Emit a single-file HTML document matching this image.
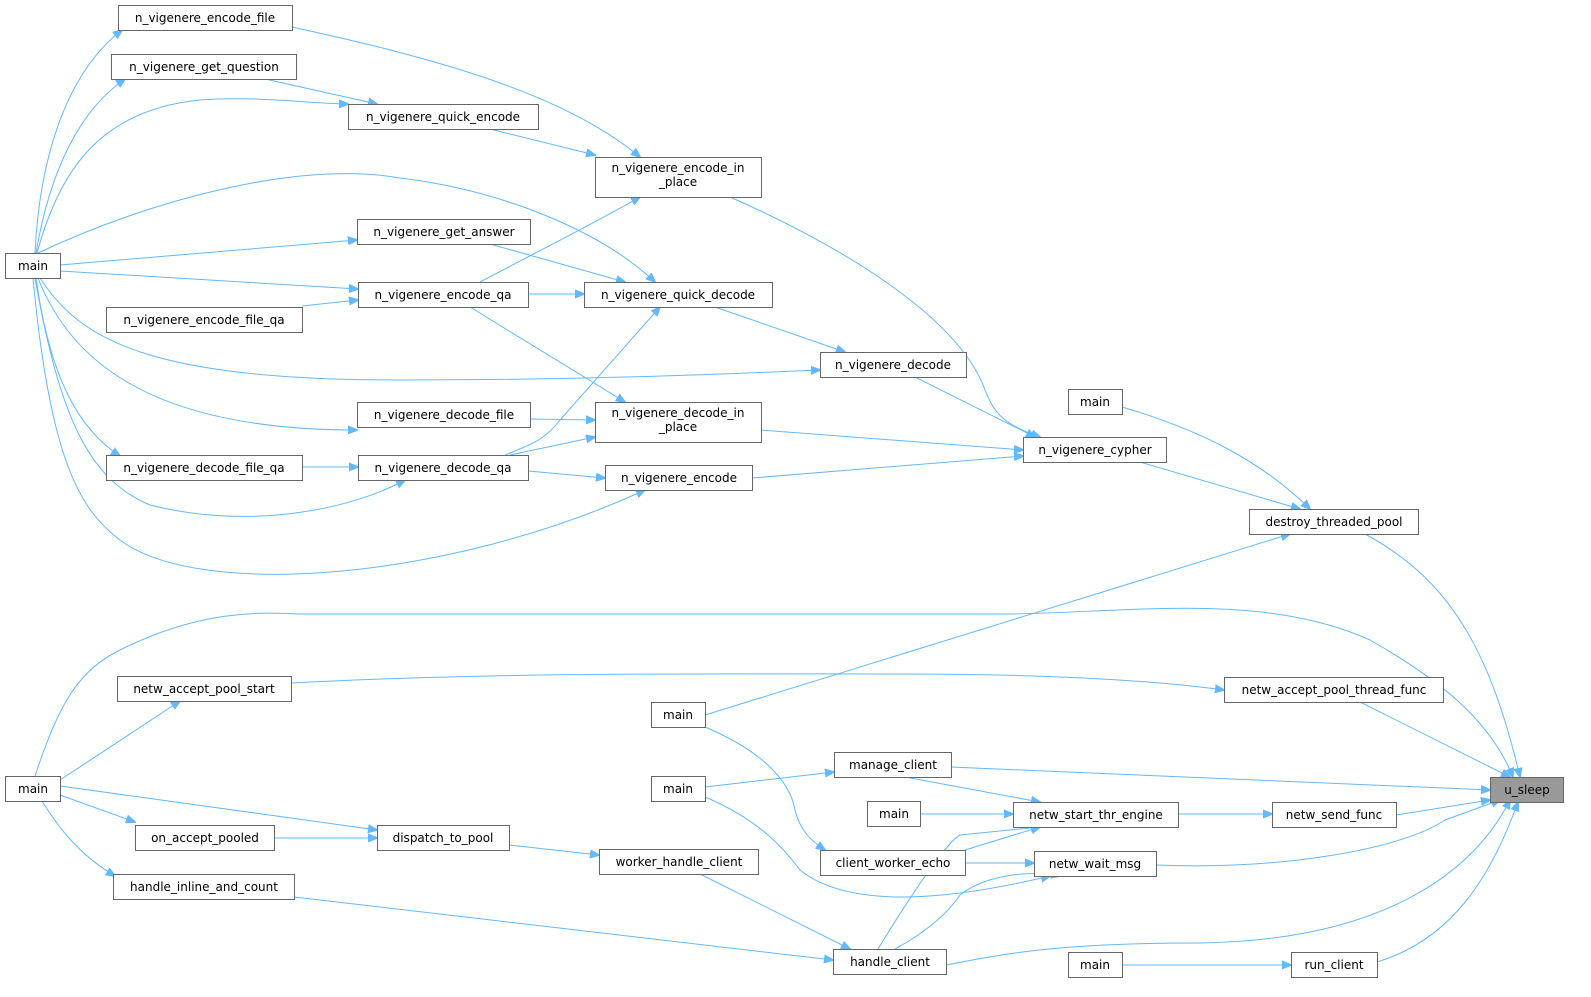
<!DOCTYPE html>
<html><head><meta charset="utf-8"><style>
html,body{margin:0;padding:0;background:#fff;}
svg{display:block;}
text{font-family:"DejaVu Sans","Liberation Sans",sans-serif;font-size:12px;fill:#000;}
.n{fill:#fff;stroke:#666;stroke-width:1;}
.e{fill:none;stroke:#63b8ff;stroke-width:1;}
</style></head><body>
<svg width="1591" height="997" viewBox="0 0 1591 997" xmlns="http://www.w3.org/2000/svg">
<defs><marker id="a" viewBox="0 0 10 10" refX="9" refY="5" markerWidth="10" markerHeight="10" markerUnits="userSpaceOnUse" orient="auto"><path d="M0,1 L10,5 L0,9 z" fill="#63b8ff" stroke="#63b8ff"/></marker></defs>
<g class="e" marker-end="url(#a)">
<path d="M35,253 C40,150 70,70 122,30"/>
<path d="M36,253 C50,170 80,110 125,79"/>
<path d="M37,253 C60,170 100,110 200,100 C260,96 300,103 348,104"/>
<path d="M38,253 C150,200 300,160 400,178 C500,190 600,230 655,282"/>
<path d="M60,265 L357,240"/>
<path d="M60,271 L358,289"/>
<path d="M40,278 C80,340 150,380 400,380 C600,380 750,373 820,370"/>
<path d="M38,278 C70,360 150,430 357,430"/>
<path d="M36,278 C50,380 80,430 120,456"/>
<path d="M35,278 C60,420 90,480 150,505 C250,530 350,510 405,480"/>
<path d="M33,278 C50,460 80,510 120,540 C200,600 450,580 645,490"/>
<path d="M265,79 L377,104"/>
<path d="M292,27 C420,55 560,90 640,157"/>
<path d="M490,129 L595,155"/>
<path d="M480,282 C560,240 600,220 640,197"/>
<path d="M490,244 L625,282"/>
<path d="M528,294 L584,294"/>
<path d="M302,306 L358,300"/>
<path d="M470,307 L625,402"/>
<path d="M505,455 C530,445 545,440 560,420 L660,307"/>
<path d="M530,419 L595,420"/>
<path d="M510,455 L595,437"/>
<path d="M302,467 L358,467"/>
<path d="M528,471 L605,478"/>
<path d="M715,307 L845,352"/>
<path d="M730,197 C850,250 960,320 985,390 C995,415 1005,425 1040,437"/>
<path d="M761,430 L1023,450"/>
<path d="M752,478 L1023,456"/>
<path d="M915,377 L1035,437"/>
<path d="M1140,462 L1300,509"/>
<path d="M1122,407 C1200,430 1260,460 1310,509"/>
<path d="M705,715 L1290,534"/>
<path d="M1365,534 C1450,580 1490,650 1520,777"/>
<path d="M35,776 C60,700 80,670 120,650 C200,610 260,612 300,614 L1000,614 C1120,614 1260,590 1370,640 C1440,680 1490,720 1513,777"/>
<path d="M60,780 L180,701"/>
<path d="M291,683 C500,672 700,674 900,674 C1050,674 1150,680 1224,690"/>
<path d="M1360,702 L1510,777"/>
<path d="M951,767 L1490,790"/>
<path d="M705,787 L834,772"/>
<path d="M705,727 C760,750 790,780 795,810 C800,830 810,840 825,850"/>
<path d="M60,786 L377,830"/>
<path d="M60,795 L135,822"/>
<path d="M42,801 C60,830 80,855 115,876"/>
<path d="M274,838 L377,838"/>
<path d="M509,845 L599,855"/>
<path d="M905,777 L1040,802"/>
<path d="M920,814 L1013,814"/>
<path d="M1178,814 L1272,814"/>
<path d="M1396,815 L1490,800"/>
<path d="M965,850 L1040,827"/>
<path d="M965,863 L1034,863"/>
<path d="M1156,865 C1280,870 1400,850 1445,820 L1500,800"/>
<path d="M878,949 C920,880 950,840 960,835 L1040,827"/>
<path d="M895,949 C930,930 950,910 960,895 C985,875 1030,870 1060,876"/>
<path d="M705,797 C760,820 785,850 800,870 C850,910 950,900 1050,876"/>
<path d="M700,874 L850,949"/>
<path d="M294,897 L833,960"/>
<path d="M946,965 C1000,955 1050,943 1200,943 C1400,940 1480,860 1510,800"/>
<path d="M1377,962 C1450,940 1490,880 1518,802"/>
<path d="M1122,965 L1291,965"/>
</g>
<g>
<rect class="n" x="118.5" y="5.5" width="174" height="25"/><text x="205" y="22" text-anchor="middle">n_vigenere_encode_file</text>
<rect class="n" x="111.5" y="54.5" width="185" height="25"/><text x="204" y="71" text-anchor="middle">n_vigenere_get_question</text>
<rect class="n" x="348.5" y="104.5" width="190" height="25"/><text x="443" y="121" text-anchor="middle">n_vigenere_quick_encode</text>
<rect class="n" x="595.5" y="157.5" width="166" height="40"/><text x="678" y="172" text-anchor="middle">n_vigenere_encode_in</text><text x="678" y="186" text-anchor="middle">_place</text>
<rect class="n" x="5.5" y="253.5" width="55" height="25"/><text x="33" y="270" text-anchor="middle">main</text>
<rect class="n" x="357.5" y="219.5" width="173" height="25"/><text x="444" y="236" text-anchor="middle">n_vigenere_get_answer</text>
<rect class="n" x="358.5" y="282.5" width="170" height="25"/><text x="443" y="299" text-anchor="middle">n_vigenere_encode_qa</text>
<rect class="n" x="584.5" y="282.5" width="188" height="25"/><text x="678" y="299" text-anchor="middle">n_vigenere_quick_decode</text>
<rect class="n" x="106.5" y="307.5" width="196" height="25"/><text x="204" y="324" text-anchor="middle">n_vigenere_encode_file_qa</text>
<rect class="n" x="820.5" y="352.5" width="146" height="25"/><text x="893" y="369" text-anchor="middle">n_vigenere_decode</text>
<rect class="n" x="1068.5" y="389.5" width="54" height="25"/><text x="1095" y="406" text-anchor="middle">main</text>
<rect class="n" x="357.5" y="402.5" width="173" height="25"/><text x="444" y="419" text-anchor="middle">n_vigenere_decode_file</text>
<rect class="n" x="595.5" y="402.5" width="166" height="40"/><text x="678" y="417" text-anchor="middle">n_vigenere_decode_in</text><text x="678" y="431" text-anchor="middle">_place</text>
<rect class="n" x="1023.5" y="437.5" width="143" height="25"/><text x="1095" y="454" text-anchor="middle">n_vigenere_cypher</text>
<rect class="n" x="106.5" y="455.5" width="196" height="25"/><text x="204" y="472" text-anchor="middle">n_vigenere_decode_file_qa</text>
<rect class="n" x="358.5" y="455.5" width="170" height="25"/><text x="443" y="472" text-anchor="middle">n_vigenere_decode_qa</text>
<rect class="n" x="605.5" y="465.5" width="147" height="25"/><text x="679" y="482" text-anchor="middle">n_vigenere_encode</text>
<rect class="n" x="1249.5" y="509.5" width="169" height="25"/><text x="1334" y="526" text-anchor="middle">destroy_threaded_pool</text>
<rect class="n" x="117.5" y="676.5" width="174" height="25"/><text x="204" y="693" text-anchor="middle">netw_accept_pool_start</text>
<rect class="n" x="1224.5" y="677.5" width="219" height="25"/><text x="1334" y="694" text-anchor="middle">netw_accept_pool_thread_func</text>
<rect class="n" x="651.5" y="702.5" width="54" height="25"/><text x="678" y="719" text-anchor="middle">main</text>
<rect class="n" x="834.5" y="752.5" width="117" height="25"/><text x="893" y="769" text-anchor="middle">manage_client</text>
<rect class="n" x="5.5" y="776.5" width="55" height="25"/><text x="33" y="793" text-anchor="middle">main</text>
<rect class="n" x="651.5" y="776.5" width="54" height="25"/><text x="678" y="793" text-anchor="middle">main</text>
<rect x="1490.5" y="777.5" width="73" height="25" fill="#999" stroke="#666"/><text x="1527" y="794" text-anchor="middle">u_sleep</text>
<rect class="n" x="867.5" y="801.5" width="53" height="25"/><text x="894" y="818" text-anchor="middle">main</text>
<rect class="n" x="1013.5" y="802.5" width="165" height="25"/><text x="1096" y="819" text-anchor="middle">netw_start_thr_engine</text>
<rect class="n" x="1272.5" y="802.5" width="124" height="25"/><text x="1334" y="819" text-anchor="middle">netw_send_func</text>
<rect class="n" x="135.5" y="825.5" width="139" height="25"/><text x="205" y="842" text-anchor="middle">on_accept_pooled</text>
<rect class="n" x="377.5" y="825.5" width="132" height="25"/><text x="443" y="842" text-anchor="middle">dispatch_to_pool</text>
<rect class="n" x="820.5" y="850.5" width="145" height="25"/><text x="893" y="867" text-anchor="middle">client_worker_echo</text>
<rect class="n" x="1034.5" y="851.5" width="122" height="25"/><text x="1095" y="868" text-anchor="middle">netw_wait_msg</text>
<rect class="n" x="599.5" y="849.5" width="159" height="25"/><text x="679" y="866" text-anchor="middle">worker_handle_client</text>
<rect class="n" x="113.5" y="874.5" width="181" height="25"/><text x="204" y="891" text-anchor="middle">handle_inline_and_count</text>
<rect class="n" x="833.5" y="949.5" width="113" height="25"/><text x="890" y="966" text-anchor="middle">handle_client</text>
<rect class="n" x="1068.5" y="952.5" width="54" height="25"/><text x="1095" y="969" text-anchor="middle">main</text>
<rect class="n" x="1291.5" y="952.5" width="86" height="25"/><text x="1334" y="969" text-anchor="middle">run_client</text>
</g>
</svg>
</body></html>
